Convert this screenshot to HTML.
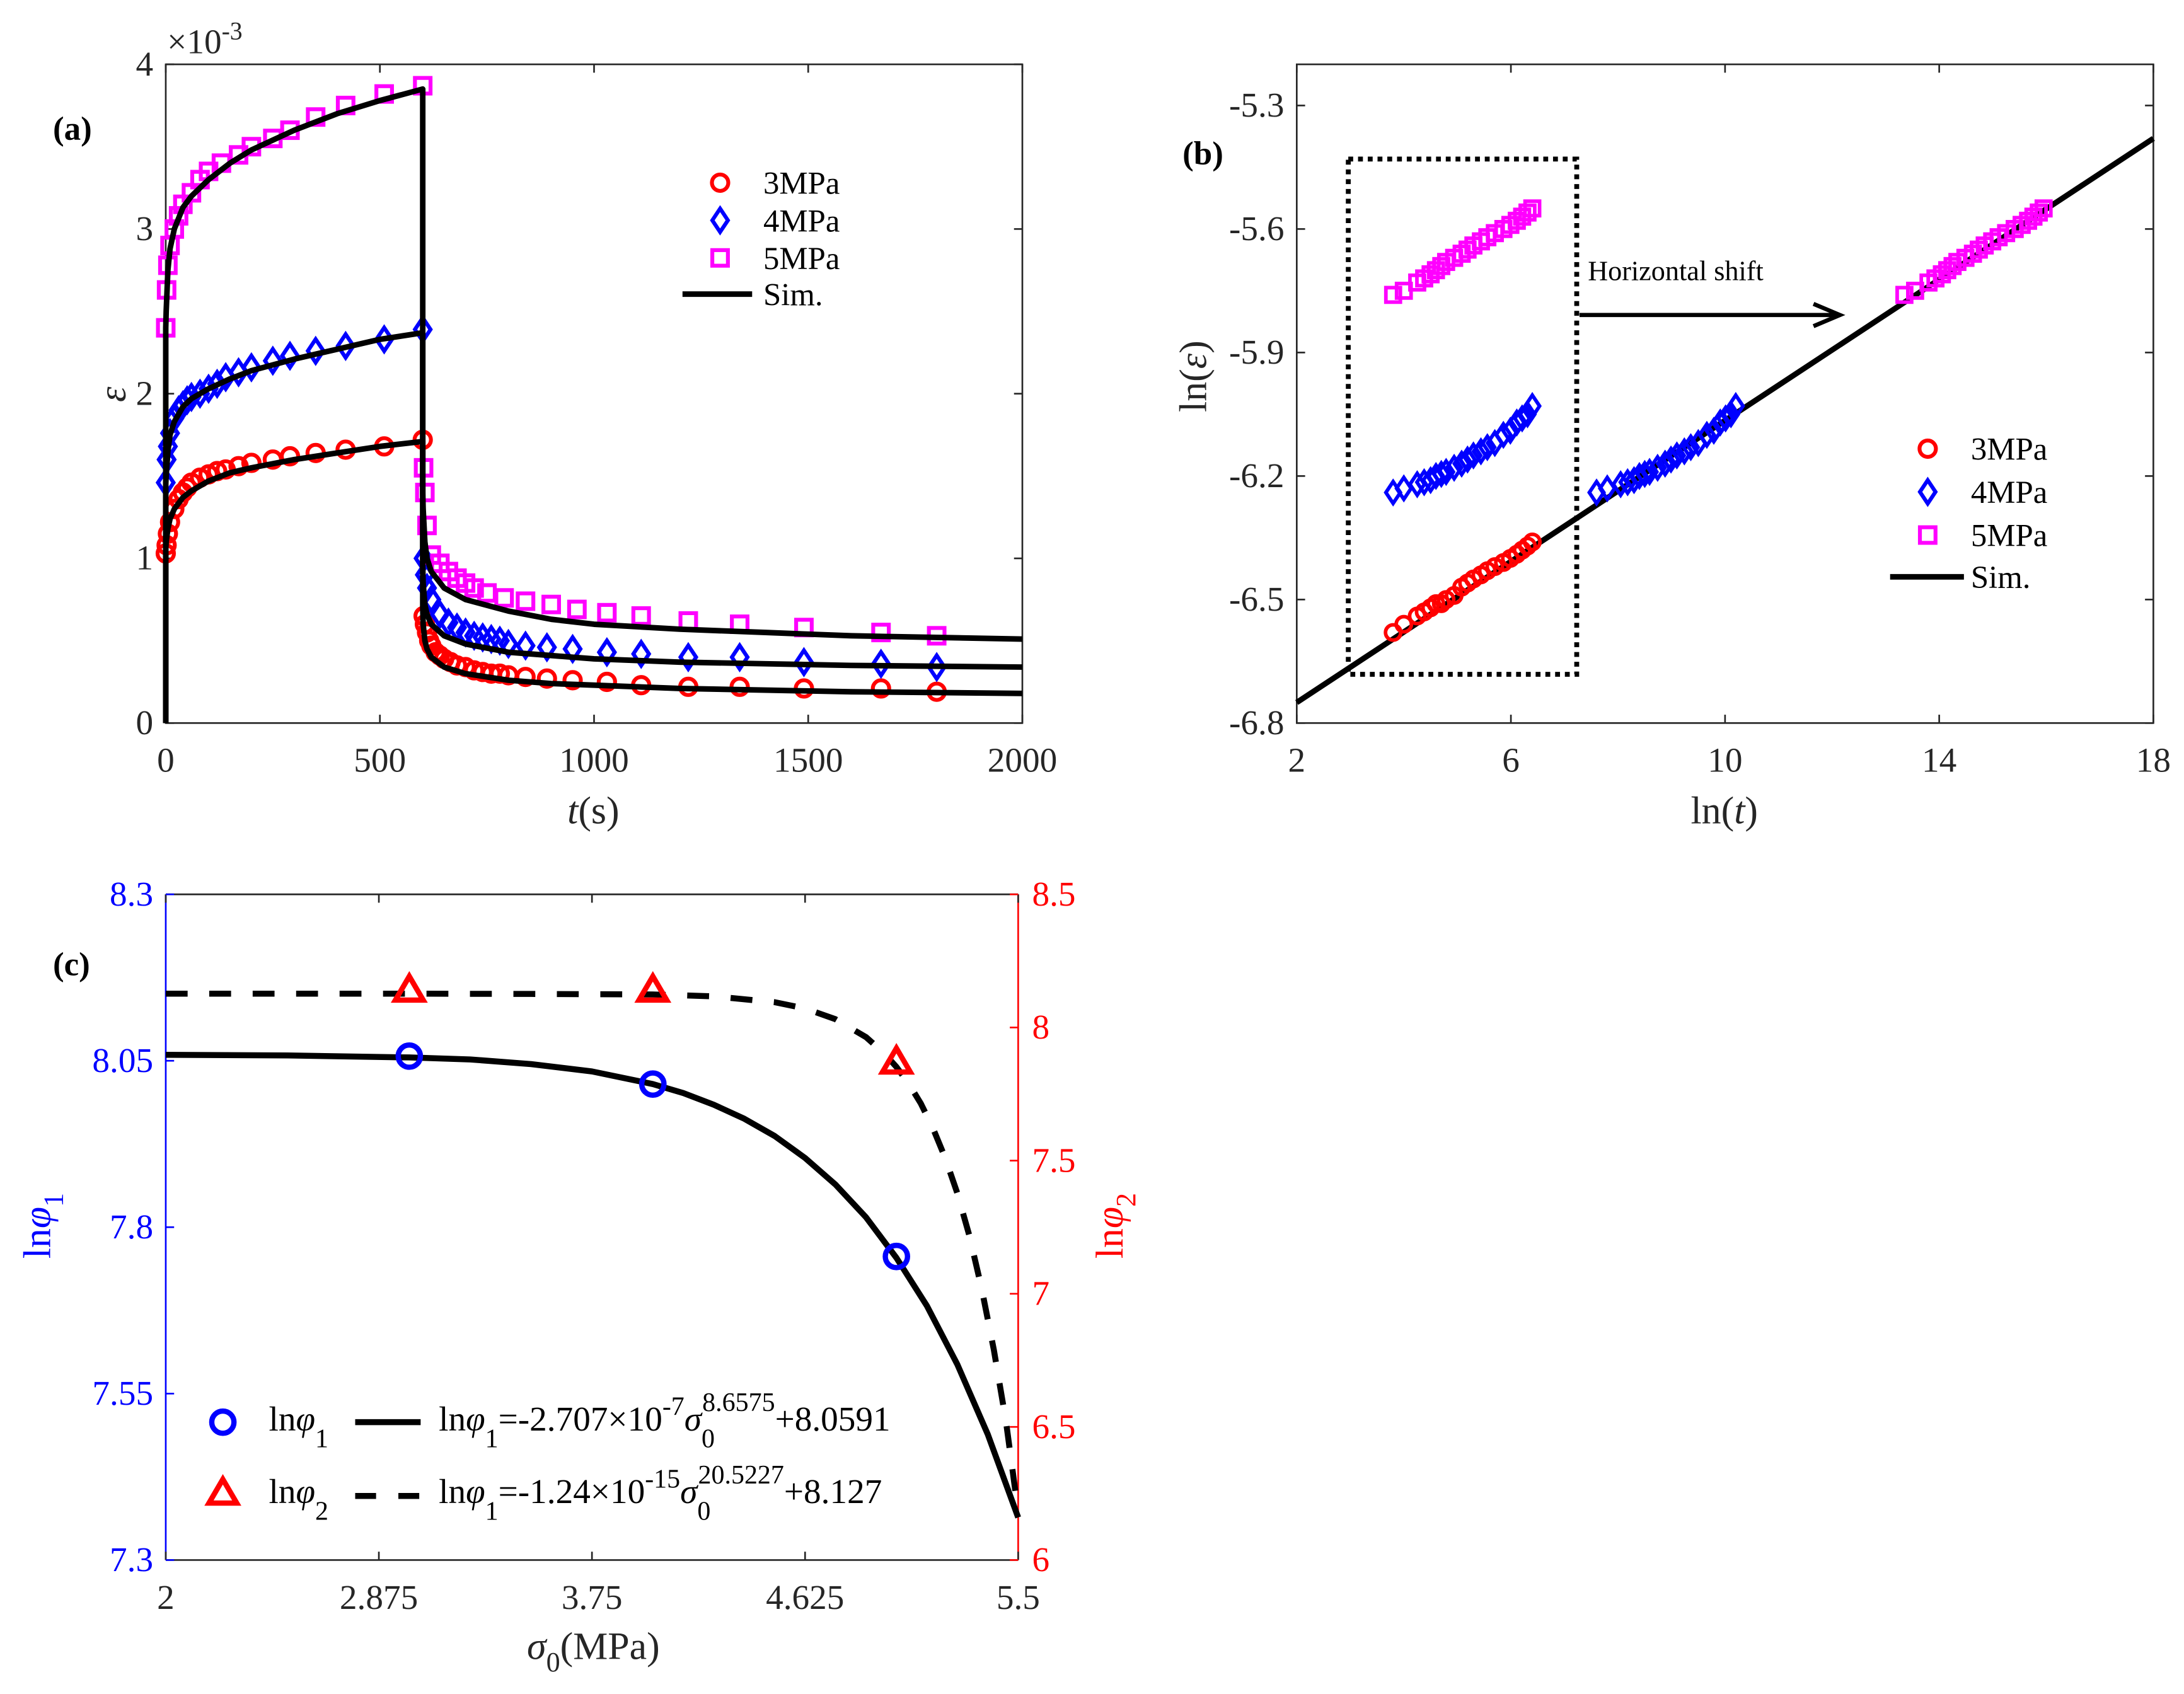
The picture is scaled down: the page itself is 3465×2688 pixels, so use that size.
<!DOCTYPE html>
<html><head><meta charset="utf-8"><style>
html,body{margin:0;padding:0;background:#fff;}
svg{display:block;font-family:"Liberation Serif",serif;}
</style></head><body>
<svg id="fig" width="3465" height="2688" viewBox="0 0 1568 1216" xmlns="http://www.w3.org/2000/svg">
<rect width="1568" height="1216" fill="#fff"/>
<g id="pa"></g>
<g id="pb"></g>
<g id="pc"></g>
</svg>
<script>
// ---------- Panel (a) data (strain x1e-3) ----------
const aLoadT3=[0,2,5,10,20,30,40,50,60,80,100,120,140,170,200,250,290,350,420,510,600];
const aLoad3=[1.03,1.08,1.15,1.22,1.3,1.36,1.4,1.43,1.46,1.49,1.51,1.53,1.54,1.56,1.58,1.6,1.62,1.64,1.66,1.68,1.72];
const aUnT3=[602,605,610,615,620,630,640,650,665,680,700,720,740,760,780,800,840,890,950,1030,1110,1220,1340,1490,1670,1800];
const aUn3=[0.65,0.6,0.55,0.5,0.47,0.43,0.41,0.39,0.37,0.35,0.34,0.32,0.31,0.3,0.3,0.29,0.28,0.27,0.26,0.25,0.23,0.22,0.22,0.21,0.21,0.19];
const aLoadT4=[0,2,5,10,20,30,40,50,60,80,100,120,140,170,200,250,290,350,420,510,600];
const aLoad4=[1.46,1.6,1.68,1.76,1.85,1.9,1.93,1.96,1.98,2.0,2.03,2.06,2.1,2.13,2.16,2.2,2.23,2.26,2.29,2.33,2.39];
const aUnT4=[602,605,610,620,640,660,680,700,720,740,760,780,800,840,890,950,1030,1110,1220,1340,1490,1670,1800];
const aUn4=[1.0,0.9,0.82,0.75,0.66,0.61,0.58,0.55,0.53,0.52,0.51,0.5,0.48,0.47,0.46,0.45,0.43,0.42,0.4,0.4,0.37,0.36,0.34];
const aLoadT5=[0,2,5,10,20,30,40,60,80,100,130,170,200,250,290,350,420,510,600];
const aLoad5=[2.4,2.63,2.78,2.9,3.0,3.08,3.15,3.22,3.3,3.35,3.4,3.45,3.5,3.55,3.6,3.68,3.75,3.82,3.87];
const aUnT5=[602,605,610,620,640,660,680,700,720,750,790,840,900,960,1030,1110,1220,1340,1490,1670,1800];
const aUn5=[1.55,1.4,1.2,1.02,0.97,0.92,0.88,0.85,0.82,0.79,0.76,0.74,0.72,0.69,0.67,0.65,0.62,0.6,0.58,0.55,0.53];
const aSimT=[0,0.01,1,5,10,20,40,60,100,150,200,300,400,500,600,600.01,601,605,610,620,650,700,800,900,1000,1200,1400,1600,1800,2000];
const aSim3=[0,1.05,1.1,1.18,1.24,1.3,1.37,1.41,1.47,1.52,1.55,1.6,1.64,1.68,1.71,0.7,0.6,0.5,0.45,0.4,0.34,0.3,0.26,0.24,0.23,0.21,0.2,0.19,0.185,0.18];
const aSim4=[0,1.45,1.5,1.65,1.75,1.83,1.92,1.97,2.03,2.09,2.14,2.21,2.27,2.33,2.37,0.95,0.85,0.72,0.66,0.6,0.53,0.48,0.43,0.41,0.39,0.37,0.36,0.35,0.345,0.34];
const aSim5=[0,2.4,2.5,2.75,2.88,3.0,3.13,3.2,3.3,3.4,3.48,3.6,3.7,3.78,3.85,1.4,1.3,1.1,1.0,0.92,0.82,0.75,0.68,0.63,0.6,0.57,0.55,0.53,0.52,0.51];
const aXTicks=[0,500,1000,1500,2000];
const aYTicks=[0,1,2,3,4];
// ---------- Panel (b) data ----------
const bLnT=[3.8,4.0,4.25,4.38,4.5,4.6,4.7,4.79,4.94,5.08,5.19,5.3,5.44,5.56,5.7,5.86,5.99,6.11,6.21,6.31,6.4];
const bLn3=[-6.58,-6.56,-6.54,-6.53,-6.52,-6.51,-6.51,-6.5,-6.49,-6.47,-6.46,-6.45,-6.44,-6.43,-6.42,-6.41,-6.4,-6.39,-6.38,-6.37,-6.36];
const bLn4=[-6.24,-6.23,-6.22,-6.215,-6.21,-6.2,-6.195,-6.19,-6.18,-6.17,-6.16,-6.15,-6.14,-6.13,-6.12,-6.1,-6.09,-6.07,-6.06,-6.05,-6.03];
const bLn5=[-5.76,-5.75,-5.73,-5.72,-5.71,-5.7,-5.69,-5.68,-5.67,-5.66,-5.65,-5.64,-5.63,-5.62,-5.61,-5.6,-5.59,-5.58,-5.57,-5.56,-5.55];
const bShift4=3.8, bShift5=9.55;
const bSimX=[2,18];
const bSimY=[-6.75,-5.38];
const bXTicks=[2,6,10,14,18];
const bYTicks=[-6.8,-6.5,-6.2,-5.9,-5.6,-5.3];
// ---------- Panel (c) data ----------
const cSigma=[3,4,5];
const cPhi1=[8.057,8.015,7.756];
const cPhi2=[8.14,8.14,7.87];
const cCurveS=[2,2.5,3,3.25,3.5,3.75,4,4.125,4.25,4.375,4.5,4.625,4.75,4.875,5,5.125,5.25,5.375,5.5];
const cCurve1=[8.059,8.058,8.055,8.052,8.045,8.034,8.015,8.0015,7.984,7.963,7.937,7.904,7.864,7.815,7.754,7.682,7.594,7.489,7.364];
const cCurve2S=[2,3,3.5,4,4.25,4.5,4.625,4.75,4.875,4.95,5,5.05,5.1,5.15,5.2,5.25,5.3,5.35,5.4,5.45,5.5];
const cCurve2=[8.127,8.127,8.126,8.124,8.117,8.095,8.0715,8.031,7.964,7.903,7.852,7.79,7.715,7.622,7.511,7.378,7.217,7.02,6.79,6.52,6.18];
const cXTicks=[2,2.875,3.75,4.625,5.5];
const cXTickLabels=["2","2.875","3.75","4.625","5.5"];
const cYLTicks=[7.3,7.55,7.8,8.05,8.3];
const cYRTicks=[6,6.5,7,7.5,8,8.5];

const NS="http://www.w3.org/2000/svg";
function mk(parent,tag,attrs,text){const e=document.createElementNS(NS,tag);for(const k in attrs)e.setAttribute(k,attrs[k]);if(text!==undefined)e.textContent=text;parent.appendChild(e);return e;}
function lin(d0,d1,r0,r1){return v=>r0+(v-d0)/(d1-d0)*(r1-r0);}
function marker(g,type,x,y,color,s){
  let e;
  if(type==='o'){e=mk(g,'circle',{cx:x,cy:y,r:s*0.42,fill:'none',stroke:color,'stroke-width':s*0.2});}
  else if(type==='d'){const w=s*0.4,h=s*0.6;e=mk(g,'polygon',{points:`${x},${y-h} ${x+w},${y} ${x},${y+h} ${x-w},${y}`,fill:'none',stroke:color,'stroke-width':s*0.2});}
  else if(type==='s'){const h=s*0.4;e=mk(g,'rect',{x:x-h,y:y-h,width:2*h,height:2*h,fill:'none',stroke:color,'stroke-width':s*0.2});}
  else {const h=s*0.5;e=mk(g,'polygon',{points:`${x},${y-h*1.05} ${x+h*1.05},${y+h*0.75} ${x-h*1.05},${y+h*0.75}`,fill:'none',stroke:color,'stroke-width':s*0.2});}
  return e;
}
function pathD(xs,ys,fx,fy){return xs.map((v,i)=>(i?'L':'M')+fx(v).toFixed(2)+','+fy(ys[i]).toFixed(2)).join(' ');}
const TF=25, AF=28;

// ===== Panel A =====
(function(){
const g=document.getElementById('pa');
const L=119,R=734,T=46,B=519;
const fx=lin(0,2000,L,R), fy=lin(0,4,B,T);
const frame=mk(g,'rect',{x:L,y:T,width:R-L,height:B-T,fill:'none',stroke:'#262626','stroke-width':1.2});

aXTicks.forEach(v=>{const x=fx(v);mk(g,'line',{x1:x,y1:B,x2:x,y2:B-6,stroke:'#262626','stroke-width':1.2});mk(g,'line',{x1:x,y1:T,x2:x,y2:T+6,stroke:'#262626','stroke-width':1.2});
 const t=mk(g,'text',{x:x,y:B+35,'font-size':TF,'text-anchor':'middle',fill:'#262626'},String(v));});
aYTicks.forEach(v=>{const y=fy(v);mk(g,'line',{x1:L,y1:y,x2:L+6,y2:y,stroke:'#262626','stroke-width':1.2});mk(g,'line',{x1:R,y1:y,x2:R-6,y2:y,stroke:'#262626','stroke-width':1.2});
 const t=mk(g,'text',{x:L-9,y:y+8,'font-size':TF,'text-anchor':'end',fill:'#262626'},String(v));});
const ex=mk(g,'text',{x:120,y:38,'font-size':25,fill:'#262626'});
ex.innerHTML='×10<tspan dy="-10" font-size="18">-3</tspan>';
const xl=mk(g,'text',{x:426,y:591,'font-size':AF,'text-anchor':'middle',fill:'#262626'});
xl.innerHTML='<tspan font-style="italic">t</tspan>(s)';
const yl=mk(g,'text',{x:0,y:0,'font-size':AF,'font-style':'italic','text-anchor':'middle',fill:'#262626',transform:'translate(90,283) rotate(-90)'},'ε');
const pl=mk(g,'text',{x:38,y:100,'font-size':24,'font-weight':'bold',fill:'#000'},'(a)');
const series=[[aLoadT3,aLoad3,aUnT3,aUn3,'o','#ff0000','3mpa'],[aLoadT4,aLoad4,aUnT4,aUn4,'d','#0000ff','4mpa'],[aLoadT5,aLoad5,aUnT5,aUn5,'s','#ff00ff','5mpa']];
series.forEach(s=>{const sg=mk(g,'g',{});
 s[0].forEach((t,i)=>{const m=marker(sg,s[4],fx(t),fy(s[1][i]),s[5],14);});
 s[2].forEach((t,i)=>{const m=marker(sg,s[4],fx(t),fy(s[3][i]),s[5],14);});});
[[aSim3,'3mpa'],[aSim4,'4mpa'],[aSim5,'5mpa']].forEach(s=>{const p=mk(g,'path',{d:pathD(aSimT,s[0],fx,fy),fill:'none',stroke:'#000','stroke-width':4,'stroke-linejoin':'round'});});
const lg=mk(g,'g',{});
[['o','#ff0000','3MPa',131],['d','#0000ff','4MPa',158],['s','#ff00ff','5MPa',185]].forEach(r=>{marker(lg,r[0],517,r[3],r[1],14);const t=mk(lg,'text',{x:548,y:r[3]+8,'font-size':23,fill:'#000'},r[2]);});
mk(lg,'line',{x1:490,y1:211,x2:540,y2:211,stroke:'#000','stroke-width':4});
const st=mk(lg,'text',{x:548,y:219,'font-size':23,fill:'#000'},'Sim.');
})();

// ===== Panel B =====
(function(){
const g=document.getElementById('pb');
const L=931,R=1546,T=46,B=519;
const fx=lin(2,18,L,R), fy=lin(-6.8,-5.2,B,T);
const frame=mk(g,'rect',{x:L,y:T,width:R-L,height:B-T,fill:'none',stroke:'#262626','stroke-width':1.2});

bXTicks.forEach(v=>{const x=fx(v);mk(g,'line',{x1:x,y1:B,x2:x,y2:B-6,stroke:'#262626','stroke-width':1.2});mk(g,'line',{x1:x,y1:T,x2:x,y2:T+6,stroke:'#262626','stroke-width':1.2});
 const t=mk(g,'text',{x:x,y:B+35,'font-size':TF,'text-anchor':'middle',fill:'#262626'},String(v));});
bYTicks.forEach(v=>{const y=fy(v);mk(g,'line',{x1:L,y1:y,x2:L+6,y2:y,stroke:'#262626','stroke-width':1.2});mk(g,'line',{x1:R,y1:y,x2:R-6,y2:y,stroke:'#262626','stroke-width':1.2});
 const t=mk(g,'text',{x:L-9,y:y+8,'font-size':TF,'text-anchor':'end',fill:'#262626'},v.toFixed(1));});
const xl=mk(g,'text',{x:1238,y:591,'font-size':AF,'text-anchor':'middle',fill:'#262626'});
xl.innerHTML='ln(<tspan font-style="italic">t</tspan>)';
const yl=mk(g,'text',{x:0,y:0,'font-size':AF,'text-anchor':'middle',fill:'#262626',transform:'translate(866,270) rotate(-90)'});
yl.innerHTML='ln(<tspan font-style="italic">ε</tspan>)';
const pl=mk(g,'text',{x:849,y:118,'font-size':24,'font-weight':'bold',fill:'#000'},'(b)');
const rc=mk(g,'rect',{x:968,y:114,width:164,height:370,fill:'none',stroke:'#000','stroke-width':3.5,'stroke-dasharray':'3.5 3.5'});
const sim=mk(g,'path',{d:pathD(bSimX,bSimY,fx,fy),fill:'none',stroke:'#000','stroke-width':4});
const sets=[[bLn3,0,'o','#ff0000','3mpa'],[bLn4,0,'d','#0000ff','4mpa'],[bLn5,0,'s','#ff00ff','5mpa'],[bLn4,bShift4,'d','#0000ff','4mpa-shifted'],[bLn5,bShift5,'s','#ff00ff','5mpa-shifted']];
sets.forEach(s=>{const sg=mk(g,'g',{});
 bLnT.forEach((x,i)=>{const m=marker(sg,s[2],fx(x+s[1]),fy(s[0][i]),s[3],13);});});
const ar=mk(g,'g',{});
mk(ar,'line',{x1:1134,y1:226,x2:1318,y2:226,stroke:'#000','stroke-width':3});
mk(ar,'path',{d:'M1302,218 L1321,226 L1302,234',fill:'none',stroke:'#000','stroke-width':3});
const at=mk(g,'text',{x:1140,y:201,'font-size':20,fill:'#000'},'Horizontal shift');
const lg=mk(g,'g',{});
[['o','#ff0000','3MPa',322],['d','#0000ff','4MPa',353],['s','#ff00ff','5MPa',384]].forEach(r=>{marker(lg,r[0],1384,r[3],r[1],14);const t=mk(lg,'text',{x:1415,y:r[3]+8,'font-size':23,fill:'#000'},r[2]);});
mk(lg,'line',{x1:1357,y1:414,x2:1410,y2:414,stroke:'#000','stroke-width':4});
const st=mk(lg,'text',{x:1415,y:422,'font-size':23,fill:'#000'},'Sim.');
})();

// ===== Panel C =====
(function(){
const g=document.getElementById('pc');
const L=119,R=731,T=642,B=1120;
const fx=lin(2,5.5,L,R), fyL=lin(7.3,8.3,B,T), fyR=lin(6,8.5,B,T);
mk(g,'line',{x1:L,y1:T,x2:R,y2:T,stroke:'#262626','stroke-width':1.2});
mk(g,'line',{x1:L,y1:B,x2:R,y2:B,stroke:'#262626','stroke-width':1.2});
const la=mk(g,'line',{x1:L,y1:T,x2:L,y2:B,stroke:'#0000ff','stroke-width':1.2});
const ra=mk(g,'line',{x1:R,y1:T,x2:R,y2:B,stroke:'#ff0000','stroke-width':1.2});
cXTicks.forEach((v,i)=>{const x=fx(v);mk(g,'line',{x1:x,y1:B,x2:x,y2:B-6,stroke:'#262626','stroke-width':1.2});mk(g,'line',{x1:x,y1:T,x2:x,y2:T+6,stroke:'#262626','stroke-width':1.2});
 const t=mk(g,'text',{x:x,y:B+35,'font-size':TF,'text-anchor':'middle',fill:'#262626'},cXTickLabels[i]);});
cYLTicks.forEach(v=>{const y=fyL(v);mk(g,'line',{x1:L,y1:y,x2:L+6,y2:y,stroke:'#0000ff','stroke-width':1.2});
 const t=mk(g,'text',{x:L-9,y:y+8,'font-size':TF,'text-anchor':'end',fill:'#0000ff'},String(v));});
cYRTicks.forEach(v=>{const y=fyR(v);mk(g,'line',{x1:R,y1:y,x2:R-6,y2:y,stroke:'#ff0000','stroke-width':1.2});
 const t=mk(g,'text',{x:R+10,y:y+8,'font-size':TF,'text-anchor':'start',fill:'#ff0000'},String(v));});
const xl=mk(g,'text',{x:426,y:1191,'font-size':AF,'text-anchor':'middle',fill:'#262626'});
xl.innerHTML='<tspan font-style="italic">σ</tspan><tspan dy="9" font-size="20">0</tspan><tspan dy="-9">(MPa)</tspan>';
const yl=mk(g,'text',{x:0,y:0,'font-size':AF,'text-anchor':'middle',fill:'#0000ff',transform:'translate(36,880) rotate(-90)'});
yl.innerHTML='ln<tspan font-style="italic">φ</tspan><tspan dy="9" font-size="20">1</tspan>';
const yr=mk(g,'text',{x:0,y:0,'font-size':AF,'text-anchor':'middle',fill:'#ff0000',transform:'translate(806,880) rotate(-90)'});
yr.innerHTML='ln<tspan font-style="italic">φ</tspan><tspan dy="9" font-size="20">2</tspan>';
const pl=mk(g,'text',{x:38,y:700,'font-size':24,'font-weight':'bold',fill:'#000'},'(c)');
const c1=mk(g,'path',{d:pathD(cCurveS,cCurve1,fx,fyL),fill:'none',stroke:'#000','stroke-width':4.3,'stroke-linejoin':'round'});
const c2=mk(g,'path',{d:pathD(cCurve2S,cCurve2,fx,fyR),fill:'none',stroke:'#000','stroke-width':4.3,'stroke-dasharray':'15.7 15.5','stroke-linejoin':'round'});
cSigma.forEach((s,i)=>{const m=marker(g,'o',fx(s),fyL(cPhi1[i]),'#0000ff',19);
 const m2=marker(g,'t',fx(s),fyR(cPhi2[i]),'#ff0000',19);});
const lg=mk(g,'g',{});
marker(lg,'o',160,1021,'#0000ff',19);marker(lg,'t',160,1072,'#ff0000',19);
mk(lg,'line',{x1:255,y1:1021,x2:302,y2:1021,stroke:'#000','stroke-width':4.3});
mk(lg,'line',{x1:255,y1:1074,x2:302,y2:1074,stroke:'#000','stroke-width':4.3,'stroke-dasharray':'15 16'});
const t1=mk(lg,'text',{x:193,y:1027,'font-size':25,fill:'#000'});
t1.innerHTML='ln<tspan font-style="italic">φ</tspan><tspan dy="12" font-size="19">1</tspan>';
const t2=mk(lg,'text',{x:193,y:1079,'font-size':25,fill:'#000'});
t2.innerHTML='ln<tspan font-style="italic">φ</tspan><tspan dy="12" font-size="19">2</tspan>';
const f1=mk(lg,'text',{x:315,y:1027,'font-size':25,fill:'#000'});
f1.innerHTML='ln<tspan font-style="italic">φ</tspan><tspan dy="12" font-size="19">1</tspan><tspan dy="-12">=-2.707×10</tspan><tspan dy="-11" font-size="19">-7</tspan><tspan dy="11" font-style="italic">σ</tspan><tspan dy="12" font-size="19">0</tspan><tspan dy="-26" dx="-9" font-size="19">8.6575</tspan><tspan dy="14">+8.0591</tspan>';
const f2=mk(lg,'text',{x:315,y:1079,'font-size':25,fill:'#000'});
f2.innerHTML='ln<tspan font-style="italic">φ</tspan><tspan dy="12" font-size="19">1</tspan><tspan dy="-12">=-1.24×10</tspan><tspan dy="-11" font-size="19">-15</tspan><tspan dy="11" font-style="italic">σ</tspan><tspan dy="12" font-size="19">0</tspan><tspan dy="-26" dx="-9" font-size="19">20.5227</tspan><tspan dy="14">+8.127</tspan>';
})();
</script>
</body></html>
